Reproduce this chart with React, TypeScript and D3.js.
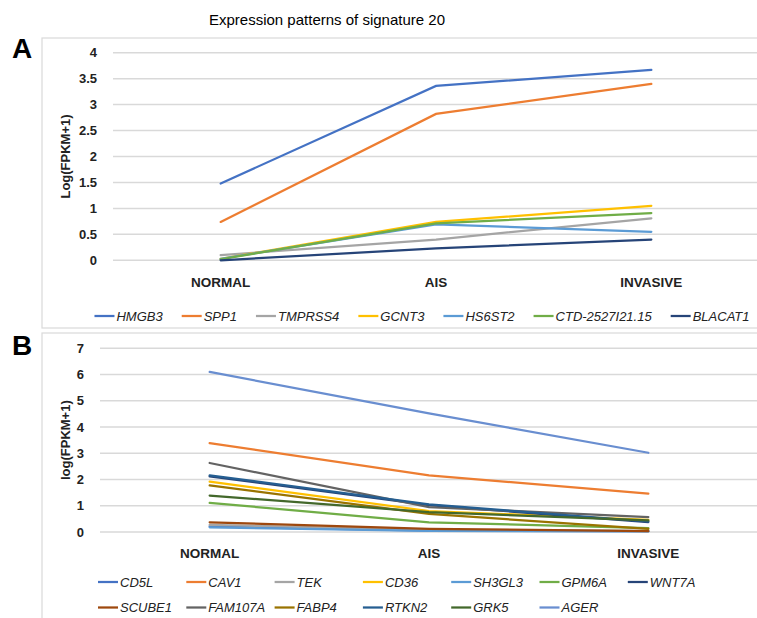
import React, { useEffect, useRef } from 'react';
import * as d3 from 'd3';

// stages on the x axis
const stages = ['NORMAL', 'AIS', 'INVASIVE'];

// panel A series
const genesA = ['HMGB3', 'SPP1', 'TMPRSS4', 'GCNT3', 'HS6ST2', 'CTD-2527I21.15', 'BLACAT1'];
const valuesA = [
  [1.48, 3.36, 3.67],
  [0.74, 2.82, 3.4],
  [0.1, 0.4, 0.81],
  [0.03, 0.74, 1.05],
  [0.03, 0.69, 0.55],
  [0.02, 0.71, 0.91],
  [0.0, 0.23, 0.4],
];
const colorsA = ['#4472C4', '#ED7D31', '#A5A5A5', '#FFC000', '#5B9BD5', '#70AD47', '#264478'];
const ticksA = [0, 0.5, 1, 1.5, 2, 2.5, 3, 3.5, 4];

// panel B series
const genesB = ['CD5L', 'CAV1', 'TEK', 'CD36', 'SH3GL3', 'GPM6A', 'WNT7A', 'SCUBE1', 'FAM107A', 'FABP4', 'RTKN2', 'GRK5', 'AGER'];
const valuesB = [
  [0.21, 0.05, 0.03],
  [3.39, 2.16, 1.46],
  [0.27, 0.08, 0.04],
  [1.92, 0.8, 0.46],
  [0.18, 0.04, 0.02],
  [1.11, 0.37, 0.15],
  [2.12, 1.02, 0.38],
  [0.37, 0.12, 0.03],
  [2.63, 0.95, 0.57],
  [1.78, 0.69, 0.12],
  [2.16, 1.05, 0.4],
  [1.39, 0.76, 0.44],
  [6.1, 4.52, 3.02],
];
const colorsB = ['#4472C4', '#ED7D31', '#A5A5A5', '#FFC000', '#5B9BD5', '#70AD47', '#264478', '#9E480E', '#636363', '#997300', '#255E91', '#43682B', '#698ED0'];
const ticksB = [0, 1, 2, 3, 4, 5, 6, 7];

const FONT = '"Liberation Sans", Arial, sans-serif';

export default function App() {
  const svgRef = useRef<SVGSVGElement>(null);

  useEffect(() => {
    const svg = d3.select(svgRef.current);
    svg.selectAll('*').remove();

    // title
    svg.append('text')
      .attr('x', 327).attr('y', 25)
      .attr('text-anchor', 'middle')
      .style('font-family', FONT).style('font-size', '15px')
      .attr('fill', '#000')
      .text('Expression patterns of signature 20');

    const drawPanel = (opts: any) => {
      const { letter, letterY, box, top, bottom, left, right, ticks, max, genes, values, colors, yLabel, catY } = opts;

      svg.append('text')
        .attr('x', 12).attr('y', letterY)
        .style('font-family', FONT).style('font-size', '28px').style('font-weight', 'bold')
        .text(letter);

      svg.append('rect')
        .attr('x', box[0]).attr('y', box[1]).attr('width', box[2]).attr('height', box[3])
        .attr('fill', 'none').attr('stroke', '#d9d9d9').attr('stroke-width', 1.2);

      const x = d3.scalePoint().domain(stages).range([left, right]).padding(0.5);
      const y = d3.scaleLinear().domain([0, max]).range([bottom, top]);

      // grid
      svg.append('g').selectAll('line')
        .data(ticks)
        .join('line')
        .attr('x1', left).attr('x2', right)
        .attr('y1', (d: number) => y(d)).attr('y2', (d: number) => y(d))
        .attr('stroke', '#d9d9d9').attr('stroke-width', 1.5);

      // tick labels
      svg.append('g').selectAll('text')
        .data(ticks)
        .join('text')
        .attr('x', left - 16).attr('y', (d: number) => y(d))
        .attr('dy', '0.35em')
        .attr('text-anchor', 'end')
        .style('font-family', FONT).style('font-size', '13px').style('font-weight', 'bold')
        .attr('fill', '#222')
        .text((d: number) => String(d));

      // category labels
      svg.append('g').selectAll('text')
        .data(stages)
        .join('text')
        .attr('x', (d: string) => x(d) as number).attr('y', catY)
        .attr('text-anchor', 'middle')
        .style('font-family', FONT).style('font-size', '13.5px').style('font-weight', 'bold')
        .attr('fill', '#222')
        .text((d: string) => d);

      // y label
      svg.append('text')
        .attr('transform', `translate(70,${(top + bottom) / 2}) rotate(-90)`)
        .attr('text-anchor', 'middle')
        .style('font-family', FONT).style('font-size', '13px').style('font-weight', 'bold')
        .attr('fill', '#222')
        .text(yLabel);

      const line = d3.line<number>()
        .x((_d, i) => x(stages[i]) as number)
        .y((d) => y(d));

      svg.append('g').selectAll('path')
        .data(values)
        .join('path')
        .attr('d', (d: number[]) => line(d))
        .attr('fill', 'none')
        .attr('stroke', (_d: any, i: number) => colors[i])
        .attr('stroke-width', 2.25)
        .attr('stroke-linecap', 'round');

      return { x, y };
    };

    drawPanel({
      letter: 'A', letterY: 58, box: [42, 38, 760, 290],
      top: 52.7, bottom: 260.3, left: 113, right: 759,
      ticks: ticksA, max: 4, genes: genesA, values: valuesA, colors: colorsA,
      yLabel: 'Log(FPKM+1)', catY: 287,
    });

    drawPanel({
      letter: 'B', letterY: 355, box: [42, 333, 760, 300],
      top: 348.3, bottom: 532, left: 100, right: 758,
      ticks: ticksB, max: 7, genes: genesB, values: valuesB, colors: colorsB,
      yLabel: 'log(FPKM+1)', catY: 558,
    });

    // legend A: one row, laid out one after another and centred
    const legA = svg.append('g');
    let cx = 0;
    genesA.forEach((g, i) => {
      const item = legA.append('g').attr('transform', `translate(${cx},0)`);
      item.append('line').attr('x1', 0).attr('x2', 20).attr('y1', 0).attr('y2', 0)
        .attr('stroke', colorsA[i]).attr('stroke-width', 2.25);
      const t = item.append('text').attr('x', 22).attr('y', 0).attr('dy', '0.35em')
        .style('font-family', FONT).style('font-size', '13px').style('font-style', 'italic')
        .attr('fill', '#222')
        .text(g);
      const w = (t.node() as SVGTextElement).getComputedTextLength();
      cx += 22 + w + 19;
    });
    const totalA = cx - 19;
    legA.attr('transform', `translate(${422 - totalA / 2},316)`);

    // legend B: grid of 7 columns
    const colW = 88.3;
    genesB.forEach((g, i) => {
      const col = i % 7;
      const row = Math.floor(i / 7);
      const item = svg.append('g').attr('transform', `translate(${98 + col * colW},${582 + row * 25.5})`);
      item.append('line').attr('x1', 0).attr('x2', 20).attr('y1', 0).attr('y2', 0)
        .attr('stroke', colorsB[i]).attr('stroke-width', 2.25);
      item.append('text').attr('x', 22).attr('y', 0).attr('dy', '0.35em')
        .style('font-family', FONT).style('font-size', '13px').style('font-style', 'italic')
        .attr('fill', '#222')
        .text(g);
    });
  }, []);

  return (
    <svg
      ref={svgRef}
      width={757}
      height={618}
      style={{ position: 'absolute', left: 0, top: 0, background: '#fff' }}
    />
  );
}
